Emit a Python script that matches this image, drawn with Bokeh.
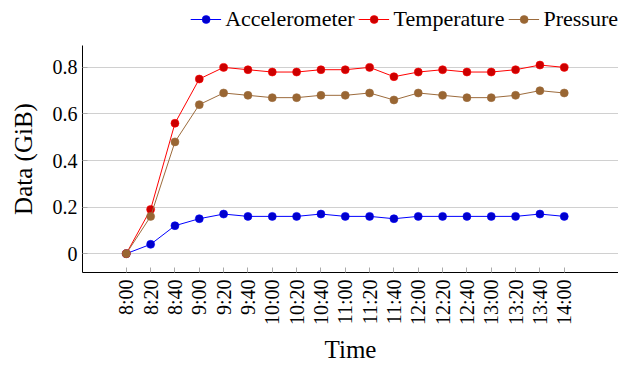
import math
from bokeh.plotting import figure
from bokeh.layouts import column
from bokeh.models import FixedTicker, Legend, Range1d
from bokeh.embed import file_html
from bokeh.resources import INLINE

times = ["8:00", "8:20", "8:40", "9:00", "9:20", "9:40", "10:00", "10:20", "10:40",
         "11:00", "11:20", "11:40", "12:00", "12:20", "12:40", "13:00", "13:20", "13:40", "14:00"]
accelerometer = [0, 0.04, 0.12, 0.15, 0.17, 0.16, 0.16, 0.16, 0.17, 0.16, 0.16, 0.15,
                 0.16, 0.16, 0.16, 0.16, 0.16, 0.17, 0.16]
temperature = [0, 0.19, 0.56, 0.75, 0.80, 0.79, 0.78, 0.78, 0.79, 0.79, 0.80, 0.76,
               0.78, 0.79, 0.78, 0.78, 0.79, 0.81, 0.80]
pressure = [0, 0.16, 0.48, 0.64, 0.69, 0.68, 0.67, 0.67, 0.68, 0.68, 0.69, 0.66,
            0.69, 0.68, 0.67, 0.67, 0.68, 0.70, 0.69]
y_ticks = [0, 0.2, 0.4, 0.6, 0.8]
y_tick_labels = ["0", "0.2", "0.4", "0.6", "0.8"]

FONT = "Liberation Serif"
x = list(range(len(times)))

series = [
    ("Accelerometer", accelerometer, "#0000ff", "#0000cc"),
    ("Temperature", temperature, "#ff0000", "#cc0000"),
    ("Pressure", pressure, "#9c6b3c", "#996633"),
]

# ---- legend strip (same data, plotted out of view so only the legend shows) ----
lf = figure(width=618, height=37, output_backend="svg", toolbar_location=None,
            x_range=Range1d(-200, -199), y_range=Range1d(-200, -199),
            x_axis_location=None, y_axis_location=None,
            min_border_left=0, min_border_right=0, min_border_top=0, min_border_bottom=0)
lf.outline_line_color = None
lf.xgrid.visible = False
lf.ygrid.visible = False
litems = []
for name, vals, lc, fc in series:
    l = lf.line(x, vals, line_color=lc, line_width=1)
    s = lf.scatter(x, vals, size=8, fill_color=fc, line_color=lc, line_width=0.6)
    litems.append((name, [l, s]))
legend = Legend(items=litems, orientation="horizontal", location="right",
                label_text_font=FONT, label_text_font_size="22px", label_text_color="black",
                glyph_width=31, glyph_height=20, label_standoff=4, spacing=4,
                padding=2, margin=0, border_line_color=None, background_fill_alpha=0)
lf.add_layout(legend, "center")

# ---- main plot ----
p = figure(width=618, height=329, output_backend="svg", toolbar_location=None,
           x_range=Range1d(-1.8, 20.23), y_range=Range1d(-0.081, 0.894),
           min_border_left=82, min_border_right=0, min_border_top=8, min_border_bottom=92)
p.outline_line_color = None
p.background_fill_color = "white"
p.border_fill_color = "white"

p.xgrid.visible = False
p.ygrid.grid_line_color = "#d0d0d0"
p.ygrid.grid_line_width = 1

tick_color = "#aaaaaa"

xa = p.xaxis[0]
xa.ticker = FixedTicker(ticks=x)
xa.major_label_overrides = {i: t for i, t in zip(x, times)}
xa.major_label_orientation = math.pi / 2
xa.axis_label = "Time"

ya = p.yaxis[0]
ya.ticker = FixedTicker(ticks=y_ticks)
ya.major_label_overrides = {v: s for v, s in zip(y_ticks, y_tick_labels)}
ya.axis_label = "Data (GiB)"

for ax in (xa, ya):
    ax.major_label_text_font = FONT
    ax.major_label_text_font_size = "20px"
    ax.major_label_text_color = "black"
    ax.axis_label_text_font = FONT
    ax.axis_label_text_font_size = "25px"
    ax.axis_label_text_font_style = "normal"
    ax.axis_label_text_color = "black"
    ax.axis_line_color = "black"
    ax.axis_line_width = 1
    ax.major_tick_in = 5
    ax.major_tick_out = 0
    ax.major_tick_line_color = tick_color
    ax.minor_tick_line_color = None
xa.major_label_standoff = 7
ya.major_label_standoff = 5
xa.axis_label_standoff = 8
ya.axis_label_standoff = 13

for name, vals, lc, fc in series:
    p.line(x, vals, line_color=lc, line_width=1)
    p.scatter(x, vals, size=8, fill_color=fc, line_color=lc, line_width=0.6)

layout = column(lf, p, spacing=0)
open("out.html", "w").write(file_html(layout, INLINE))
